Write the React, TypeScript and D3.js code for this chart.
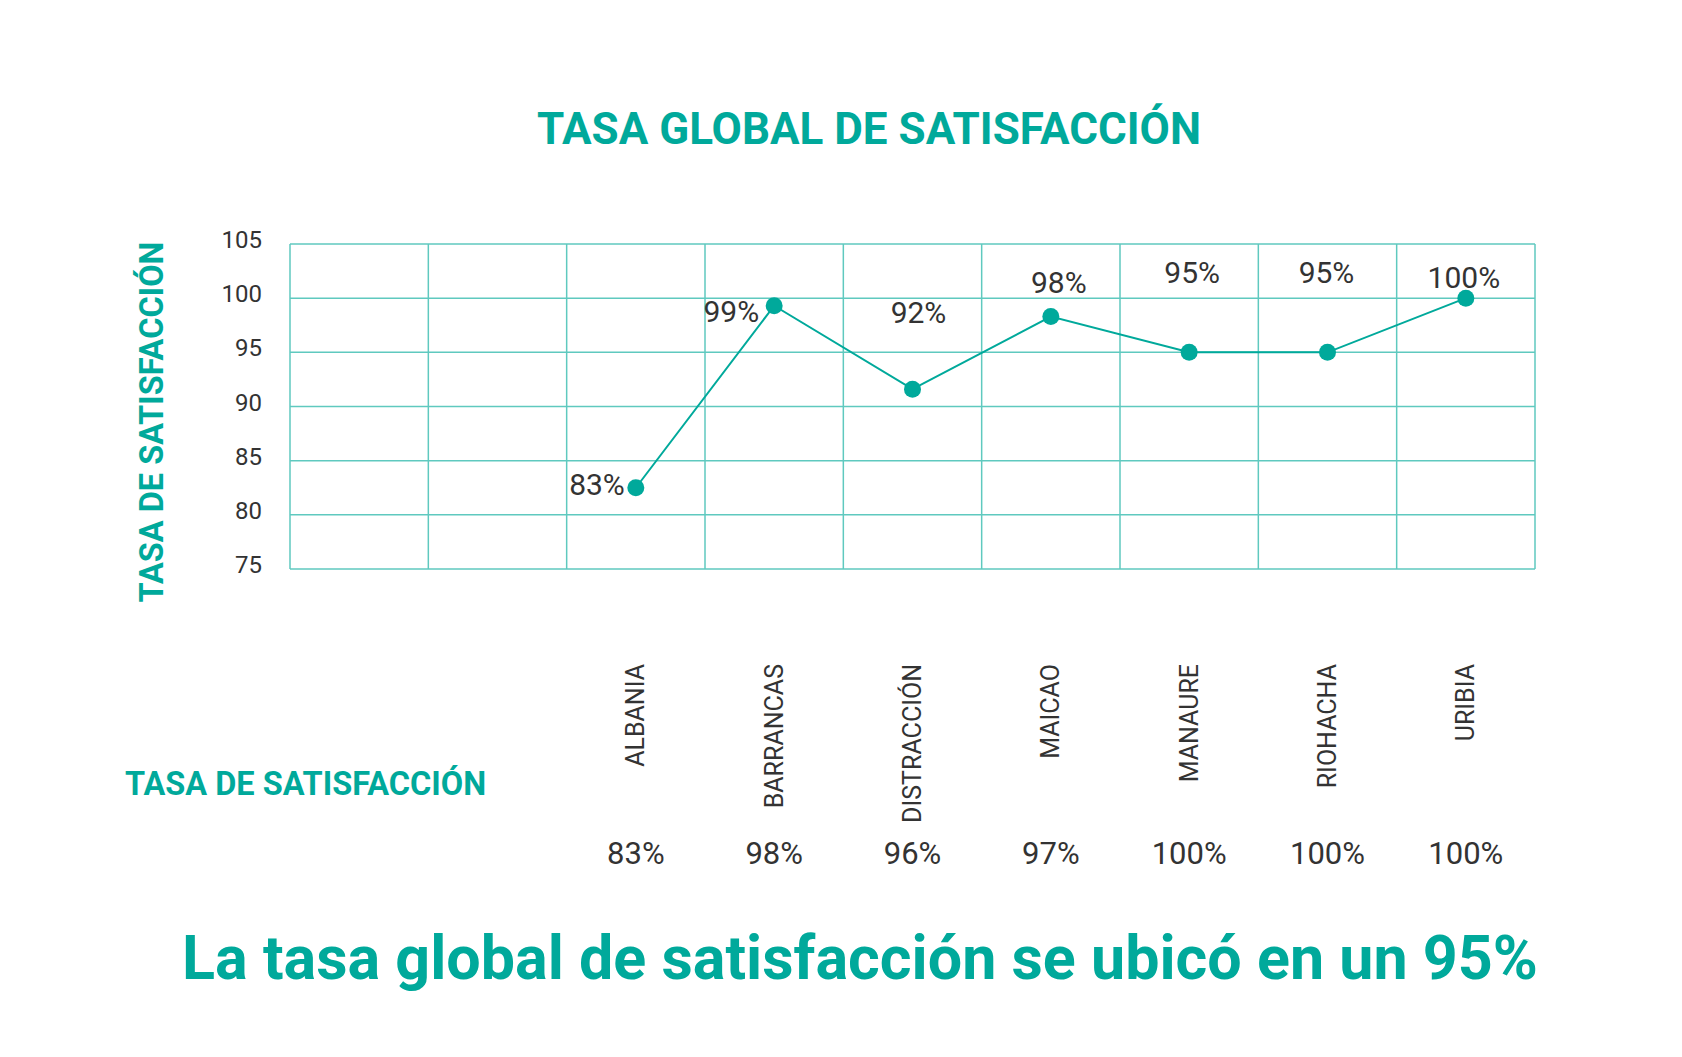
import * as d3 from "d3";

const categories = [
  "ALBANIA",
  "BARRANCAS",
  "DISTRACCIÓN",
  "MAICAO",
  "MANAURE",
  "RIOHACHA",
  "URIBIA",
];
// values drawn by the line
const plotted = [82.5, 99.3, 91.6, 98.3, 95, 95, 100];
// labels printed next to the points
const pointLabels = ["83%", "99%", "92%", "98%", "95%", "95%", "100%"];
// the row under the chart
const rowValues = ["83%", "98%", "96%", "97%", "100%", "100%", "100%"];
const yTicks = [75, 80, 85, 90, 95, 100, 105];
const blankColumns = 2;

const W = 1682;
const H = 1057;
const TEAL = "#00a99b";
const GRID = "#5fc9bf";
const INK = "#333333";
const FONT = "Roboto, 'Noto Sans', sans-serif";

// hand-placed label offsets relative to each point
const labelPlacement: { anchor: "end" | "middle"; dx: number; dy: number }[] = [
  { anchor: "end", dx: -11, dy: -3 },
  { anchor: "end", dx: -15, dy: 6 },
  { anchor: "middle", dx: 6, dy: -77 },
  { anchor: "middle", dx: 8, dy: -34 },
  { anchor: "middle", dx: 3, dy: -80 },
  { anchor: "middle", dx: -1, dy: -80 },
  { anchor: "middle", dx: -2, dy: -21 },
];

export default function App() {
  const nCols = categories.length + blankColumns;
  const x = d3
    .scaleBand<number>()
    .domain(d3.range(nCols))
    .range([290, 1535])
    .padding(0);
  const y = d3.scaleLinear().domain([75, 105]).range([569, 244]);

  const cx = (i: number) => (x(i + blankColumns) ?? 0) + x.bandwidth() / 2;

  const line = d3
    .line<number>()
    .x((_, i) => cx(i))
    .y((d) => y(d));

  const colEdges = d3.range(nCols + 1).map((i) =>
    i < nCols ? (x(i) ?? 0) : x.range()[1],
  );

  return (
    <svg
      width={W}
      height={H}
      viewBox={`0 0 ${W} ${H}`}
      style={{ position: "absolute", left: 0, top: 0, background: "#fff" }}
      fontFamily={FONT}
    >
      <text
        x={869}
        y={144}
        textAnchor="middle"
        fontSize={44}
        fontWeight={700}
        fill={TEAL}
      >
        TASA GLOBAL DE SATISFACCIÓN
      </text>

      {/* grid */}
      <g stroke={GRID} strokeWidth={1.5} fill="none">
        {yTicks.map((t) => (
          <line key={t} x1={x.range()[0]} x2={x.range()[1]} y1={y(t)} y2={y(t)} />
        ))}
        {colEdges.map((e, i) => (
          <line key={i} x1={e} x2={e} y1={y(105)} y2={y(75)} />
        ))}
      </g>

      {/* y ticks */}
      <g fontSize={24} fill={INK} textAnchor="end">
        {yTicks.map((t) => (
          <text key={t} x={262} y={y(t) - 4} dominantBaseline="central">
            {t}
          </text>
        ))}
      </g>

      <text
        transform="translate(163,422) rotate(-90)"
        textAnchor="middle"
        fontSize={32.5}
        fontWeight={700}
        fill={TEAL}
      >
        TASA DE SATISFACCIÓN
      </text>

      {/* series */}
      <path d={line(plotted) ?? ""} fill="none" stroke={TEAL} strokeWidth={2} />
      {plotted.map((v, i) => (
        <circle key={i} cx={cx(i)} cy={y(v)} r={8.5} fill={TEAL} />
      ))}
      <g fontSize={30} fill={INK}>
        {plotted.map((v, i) => {
          const p = labelPlacement[i];
          return (
            <text
              key={i}
              x={cx(i) + p.dx}
              y={y(v) + p.dy}
              textAnchor={p.anchor}
              dominantBaseline="central"
            >
              {pointLabels[i]}
            </text>
          );
        })}
      </g>

      {/* category labels */}
      <g fontSize={25} fill={INK}>
        {categories.map((c, i) => (
          <text
            key={c}
            transform={`translate(${cx(i)},664) rotate(-90)`}
            textAnchor="end"
            dominantBaseline="central"
          >
            {c}
          </text>
        ))}
      </g>

      <text x={125} y={795} fontSize={32.5} fontWeight={700} fill={TEAL}>
        TASA DE SATISFACCIÓN
      </text>

      <g fontSize={31} fill={INK} textAnchor="middle">
        {rowValues.map((v, i) => (
          <text key={i} x={cx(i)} y={864}>
            {v}
          </text>
        ))}
      </g>

      <text
        x={860}
        y={979}
        textAnchor="middle"
        fontSize={61}
        fontWeight={700}
        fill={TEAL}
      >
        La tasa global de satisfacción se ubicó en un 95%
      </text>
    </svg>
  );
}
